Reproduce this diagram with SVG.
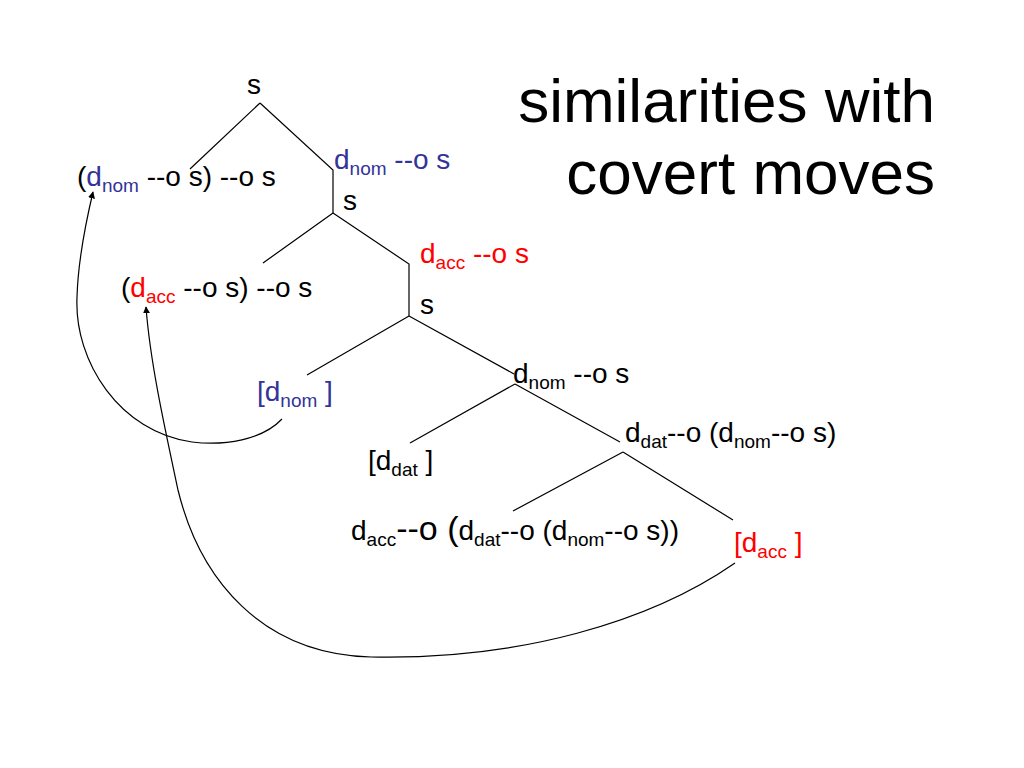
<svg xmlns="http://www.w3.org/2000/svg" width="1024" height="768" viewBox="0 0 1024 768">
<defs>
<style>
text{font-family:"Liberation Sans",Arial,sans-serif;font-size:28px;fill:#000}
.t{font-size:62px}
.b{fill:#333399}
.r{fill:#ff0000}
.sub{font-size:19px}
.big{font-size:34px}
.e{fill:none;stroke:#000;stroke-width:1.2}
.mv{fill:none;stroke:#000;stroke-width:1.2}
</style>
<marker id="ah" viewBox="0 0 10 10" refX="9" refY="5" markerWidth="7" markerHeight="7" orient="auto" markerUnits="userSpaceOnUse">
<path d="M0,0 L10,5 L0,10 z" fill="#000"/>
</marker>
</defs>
<rect width="1024" height="768" fill="#fff"/>
<g id="title">
<text class="t" x="935" y="122" text-anchor="end">similarities with</text>
<text class="t" x="935" y="194" text-anchor="end">covert moves</text>
</g>
<g id="connectors">
<path class="e" d="M260,103 L190,169 M260,103 L333,170 L333,213"/>
<path class="e" d="M333,213 L263,263 M333,213 L409,264 L409,316"/>
<path class="e" d="M409,316 L307,375 M409,316 L514,374"/>
<path class="e" d="M515,384 L410,443 M515,384 L620,442"/>
<path class="e" d="M623,452 L513,511 M623,452 L733,520"/>
<path class="mv" marker-end="url(#ah)" d="M282,419 C262,440 225,446 192,442 C120,432 74,362 77,297 C78,262 84,230 93,192"/>
<path class="mv" marker-end="url(#ah)" d="M735,563 C650,622 520,660 371,657 C262,654 200,580 178,490 C163,420 150,360 146,307"/>
</g>
<g id="n-s1"><text x="247" y="94">s</text></g>
<g id="n-left1"><text x="77" y="186">(<tspan class="b">d<tspan class="sub" dy="6">nom</tspan></tspan><tspan dy="-6"> --o s) --o s</tspan></text></g>
<g id="n-right1"><text class="b" x="334" y="169">d<tspan class="sub" dy="6">nom</tspan><tspan dy="-6"> --o s</tspan></text></g>
<g id="n-s2"><text x="343" y="210">s</text></g>
<g id="n-right2"><text class="r" x="420" y="263">d<tspan class="sub" dy="6">acc</tspan><tspan dy="-6"> --o s</tspan></text></g>
<g id="n-left2"><text x="121" y="297">(<tspan class="r">d<tspan class="sub" dy="6">acc</tspan></tspan><tspan dy="-6"> --o s) --o s</tspan></text></g>
<g id="n-s3"><text x="420" y="314">s</text></g>
<g id="n-tnom"><text class="b" x="257" y="401">[d<tspan class="sub" dy="6">nom</tspan><tspan dy="-6"> ]</tspan></text></g>
<g id="n-dnom"><text x="513" y="383">d<tspan class="sub" dy="6">nom</tspan><tspan dy="-6"> --o s</tspan></text></g>
<g id="n-tdat"><text x="368" y="470">[d<tspan class="sub" dy="6">dat</tspan><tspan dy="-6"> ]</tspan></text></g>
<g id="n-ddat"><text x="625" y="442">d<tspan class="sub" dy="6">dat</tspan><tspan dy="-6">--o (d</tspan><tspan class="sub" dy="6">nom</tspan><tspan dy="-6">--o s)</tspan></text></g>
<g id="n-dacc"><text x="351" y="540">d<tspan class="sub" dy="6">acc</tspan><tspan class="big" dy="-6">--o (</tspan>d<tspan class="sub" dy="6">dat</tspan><tspan dy="-6">--o (d</tspan><tspan class="sub" dy="6">nom</tspan><tspan dy="-6">--o s))</tspan></text></g>
<g id="n-tacc"><text class="r" x="734" y="552">[d<tspan class="sub" dy="6">acc</tspan><tspan dy="-6"> ]</tspan></text></g>
</svg>
